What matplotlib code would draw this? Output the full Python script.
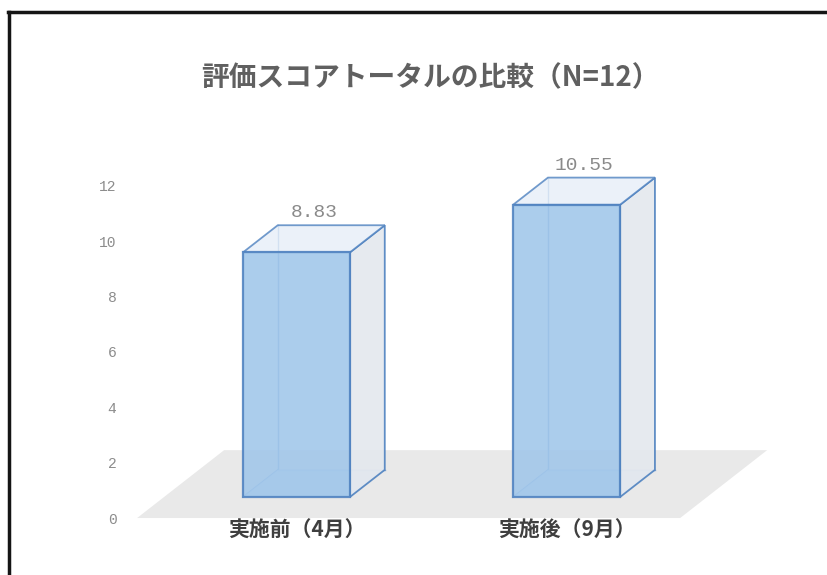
import matplotlib.pyplot as plt
from matplotlib.patches import Polygon
from matplotlib.lines import Line2D

plt.rcParams['font.family'] = ['Noto Sans CJK JP', 'DejaVu Sans']

categories = ['実施前（4月）', '実施後（9月）']
scores = [8.83, 10.55]
yticks = [0, 2, 4, 6, 8, 10, 12]
title = '評価スコアトータルの比較（N=12）'

# oblique depth direction (data units per unit of floor depth)
DX, DY = 0.322, 2.45
HALF_W = 0.198
Z0, Z1 = 0.31, 0.71

FRONT = '#a0c6ea'
EDGE = '#4f82c0'
BACK_EDGE = '#86a9d6'
SIDE = '#e4e8ee'
TOP = '#e6eef8'
FLOOR = '#e9e9e9'


def proj(x, y, z):
    return (x + z * DX, y + z * DY)


fig = plt.figure(figsize=(8.27, 5.75), dpi=100)
ax = fig.add_axes([0.1475, 0.0991, 0.82, 0.64])
ax.set_xlim(-0.546, 1.964)
ax.set_ylim(0, 13.285)
for s in ax.spines.values():
    s.set_visible(False)

# floor
fl = [proj(-0.49, 0, 0), proj(1.52, 0, 0), proj(1.52, 0, 1), proj(-0.49, 0, 1)]
ax.add_patch(Polygon(fl, closed=True, facecolor=FLOOR, edgecolor='none',
                     clip_on=False, zorder=1))

for i, v in enumerate(scores):
    x0, x1 = i - HALF_W, i + HALF_W
    z = 2
    # back edges, seen through the glass-like box
    for a, b in [((x0, 0, Z1), (x0, v, Z1)), ((x0, 0, Z1), (x1, 0, Z1)),
                 ((x0, 0, Z0), (x0, 0, Z1))]:
        pa, pb = proj(*a), proj(*b)
        ax.plot([pa[0], pb[0]], [pa[1], pb[1]], color=BACK_EDGE, lw=1.0, zorder=z)
    bottom = [proj(x0, 0, Z0), proj(x1, 0, Z0), proj(x1, 0, Z1), proj(x0, 0, Z1)]
    ax.add_patch(Polygon(bottom, facecolor='#cfe1f4', edgecolor='none', alpha=0.7, zorder=z))
    side = [proj(x1, 0, Z0), proj(x1, 0, Z1), proj(x1, v, Z1), proj(x1, v, Z0)]
    ax.add_patch(Polygon(side, facecolor=SIDE, edgecolor=EDGE, lw=1.3, alpha=0.9, zorder=z + 1))
    top = [proj(x0, v, Z0), proj(x1, v, Z0), proj(x1, v, Z1), proj(x0, v, Z1)]
    ax.add_patch(Polygon(top, facecolor=TOP, edgecolor=EDGE, lw=1.3, alpha=0.8, zorder=z + 1))
    front = [proj(x0, 0, Z0), proj(x1, 0, Z0), proj(x1, v, Z0), proj(x0, v, Z0)]
    ax.add_patch(Polygon(front, facecolor=FRONT, edgecolor=EDGE, lw=1.6, alpha=0.88, zorder=z + 2))

    lx, ly = proj(i, v, (Z0 + Z1) / 2)
    ax.text(lx, v + Z1 * DY + 0.45, f'{v:.2f}', ha='center', va='center',
            fontsize=14, color='#8a8a8a', family=['Liberation Mono', 'DejaVu Sans'],
            zorder=6)

ax.set_yticks(yticks)
ax.set_yticklabels([str(t) for t in yticks], family=['Liberation Mono', 'DejaVu Sans'],
                   fontsize=10.5, color='#8c8c8c')
ax.tick_params(axis='y', length=0, pad=4)

ax.set_xticks([proj(i, 0, Z0)[0] for i in range(len(categories))])
ax.set_xticklabels(categories, fontsize=15, fontweight='bold', color='#3f3f3f')
ax.tick_params(axis='x', length=0, pad=1)

fig.text(0.521, 1 - 78 / 575, title, ha='center', va='center',
         fontsize=20, fontweight='bold', color='#606060')

# frame of the surrounding document
fig.add_artist(Line2D([8 / 827, 1], [1 - 12 / 575] * 2, color='#151515', lw=2.5))
fig.add_artist(Line2D([9 / 827] * 2, [0, 1 - 12 / 575], color='#151515', lw=2.5))

fig.savefig('out.png', dpi=100)
